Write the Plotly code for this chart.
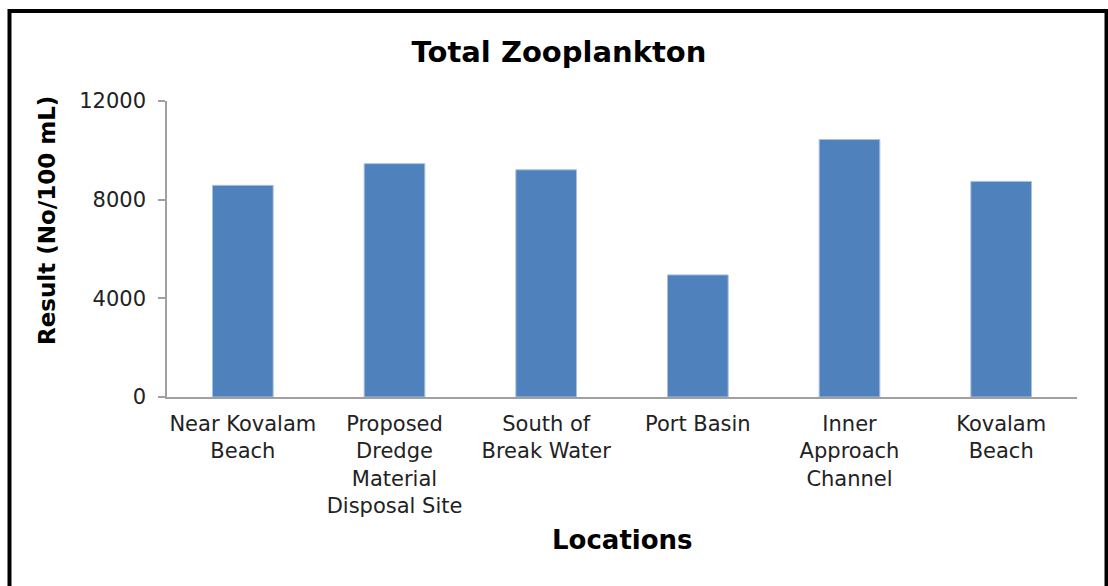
import plotly.graph_objects as go

categories = ["Near Kovalam<br>Beach", "Proposed<br>Dredge<br>Material<br>Disposal Site",
              "South of<br>Break Water", "Port Basin", "Inner<br>Approach<br>Channel", "Kovalam<br>Beach"]
values = [8580, 9460, 9210, 4950, 10440, 8740]
y_ticks = [0, 4000, 8000, 12000]

W, H = 1108, 586
L, R, T, B = 167, 1077, 101, 397  # plot area in px

def px2x(px):
    return (px - L) / (R - L)

def px2y(py):
    return (B - py) / (B - T)

fig = go.Figure()
fig.add_trace(go.Bar(
    x=list(range(len(categories))), y=values,
    marker=dict(color="#4F81BD", line=dict(color="#A9C0E0", width=1)),
    width=0.4,
))

font = "DejaVu Sans, Verdana, sans-serif"
fig.update_layout(
    width=W, height=H,
    margin=dict(l=L, r=W - R, t=T, b=H - B),
    paper_bgcolor="white", plot_bgcolor="white",
    showlegend=False,
    font=dict(family=font, color="#222222"),
    title=dict(text="<b>Total Zooplankton</b>", x=559 / W, xref="container",
               xanchor="center", y=1 - 52 / H, yanchor="middle",
               font=dict(size=29, color="black", family=font)),
    xaxis=dict(
        tickmode="array", tickvals=list(range(len(categories))), ticktext=categories,
        range=[-0.5, len(categories) - 0.5],
        showline=True, linecolor="#A0A0A0", linewidth=1.5,
        ticks="", showgrid=False, zeroline=False,
        tickfont=dict(size=21, color="#222222", family=font),
        ticklabelstandoff=7,
    ),
    yaxis=dict(
        range=[0, 12000], tickvals=y_ticks, tickformat="d",
        showline=True, linecolor="#A0A0A0", linewidth=1.5,
        ticks="outside", ticklen=7, tickcolor="#A0A0A0", tickwidth=1.5,
        showgrid=False, zeroline=False,
        tickfont=dict(size=21, color="#222222", family=font),
        ticklabelstandoff=8,
    ),
    shapes=[dict(type="rect", xref="paper", yref="paper",
                 x0=px2x(9.5), x1=px2x(1106.5), y0=px2y(11), y1=px2y(640),
                 line=dict(color="black", width=4), fillcolor="rgba(0,0,0,0)", layer="above")],
    annotations=[
        dict(text="<b>Result (No/100 mL)</b>", textangle=-90, xref="paper", yref="paper",
             x=px2x(47), y=px2y(221), xanchor="center", yanchor="middle", showarrow=False,
             font=dict(size=23, color="black", family=font)),
        dict(text="<b>Locations</b>", xref="paper", yref="paper",
             x=px2x(622), y=px2y(540), xanchor="center", yanchor="middle", showarrow=False,
             font=dict(size=26, color="black", family=font)),
    ],
)

fig.write_html("out.html", config={"displayModeBar": False},
               post_script="document.body.style.margin='0';document.body.style.padding='0';")
